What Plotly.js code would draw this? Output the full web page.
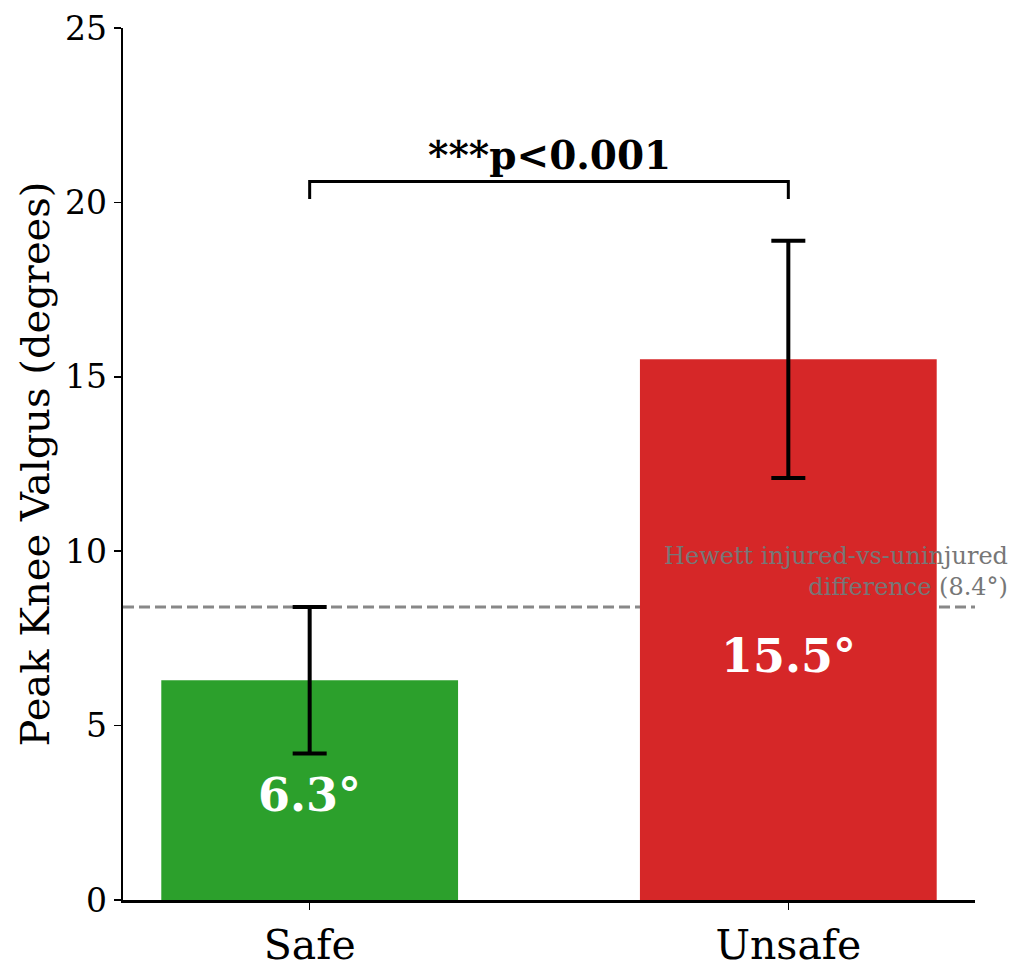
<!DOCTYPE html>
<html>
<head>
<meta charset="utf-8">
<script src="https://cdn.plot.ly/plotly-3.0.1.min.js"></script>
<style>
  html, body { margin: 0; padding: 0; background: #fff; }
  #chart { width: 1024px; height: 975px; }
</style>
</head>
<body>
<div id="chart"></div>
<script>
const groups = ["Safe", "Unsafe"];
const meanValgus = [6.3, 15.5];
const sdValgus = [2.1, 3.4];
const barColors = ["#2ca02c", "#d62728"];
const valueLabels = ["6.3°", "15.5°"];
const labelHeights = [3.0, 7.0];
const hewettRef = 8.4;
const bracketTop = 20.6;
const bracketLeg = 20.1;
const yTicks = [0, 5, 10, 15, 20, 25];

const serif = "DejaVu Serif, Liberation Serif, serif";

const bars = {
  type: "bar",
  x: [0, 1],
  y: meanValgus,
  width: 0.62,
  marker: { color: barColors },
  error_y: {
    type: "data",
    array: sdValgus,
    visible: true,
    color: "#000",
    thickness: 4,
    width: 17,
  },
  hoverinfo: "none",
};

const bracket = {
  type: "scatter",
  mode: "lines",
  x: [0, 0, 1, 1],
  y: [bracketLeg, bracketTop, bracketTop, bracketLeg],
  line: { color: "#000", width: 3 },
  hoverinfo: "none",
};

const annotations = groups.map((g, i) => ({
  x: i,
  y: labelHeights[i],
  xref: "x",
  yref: "y",
  text: "<b>" + valueLabels[i] + "</b>",
  showarrow: false,
  font: { family: serif, size: 46, color: "#fff" },
}));

annotations.push({
  x: 0.5,
  y: bracketTop,
  xref: "x",
  yref: "y",
  yanchor: "bottom",
  yshift: 1,
  text: "<b>***p<0.001</b>",
  showarrow: false,
  font: { family: serif, size: 39, color: "#000" },
});

annotations.push({
  x: 1,
  y: hewettRef,
  xref: "paper",
  yref: "y",
  xanchor: "right",
  yanchor: "bottom",
  xshift: 35,
  yshift: 4,
  align: "right",
  text: "Hewett injured-vs-uninjured<br>difference (" + hewettRef + "°)",
  showarrow: false,
  font: { family: serif, size: 24, color: "#777" },
});

const layout = {
  width: 1024,
  height: 975,
  margin: { l: 123, r: 49, t: 28, b: 75 },
  paper_bgcolor: "#fff",
  plot_bgcolor: "#fff",
  showlegend: false,
  font: { family: serif, color: "#000" },
  xaxis: {
    range: [-0.39, 1.39],
    tickvals: [0, 1],
    ticktext: groups,
    ticks: "outside",
    ticklen: 7,
    tickwidth: 1.5,
    tickcolor: "#000",
    showline: true,
    linecolor: "#000",
    linewidth: 2.5,
    showgrid: false,
    zeroline: false,
    tickfont: { family: serif, size: 41 },
  },
  yaxis: {
    range: [0, 25],
    tickvals: yTicks,
    ticks: "outside",
    ticklen: 7,
    tickwidth: 1.5,
    tickcolor: "#000",
    showline: true,
    linecolor: "#000",
    linewidth: 2.5,
    showgrid: false,
    zeroline: false,
    tickfont: { family: serif, size: 33 },
    title: {
      text: "Peak Knee Valgus (degrees)",
      font: { family: serif, size: 40 },
      standoff: 3,
    },
  },
  shapes: [
    {
      type: "line",
      xref: "paper",
      yref: "y",
      x0: 0,
      x1: 1,
      y0: hewettRef,
      y1: hewettRef,
      line: { color: "#888", width: 3, dash: "11px,5px" },
      layer: "below",
    },
  ],
  annotations: annotations,
};

Plotly.newPlot("chart", [bars, bracket], layout, { displayModeBar: false, staticPlot: true });
</script>
</body>
</html>
